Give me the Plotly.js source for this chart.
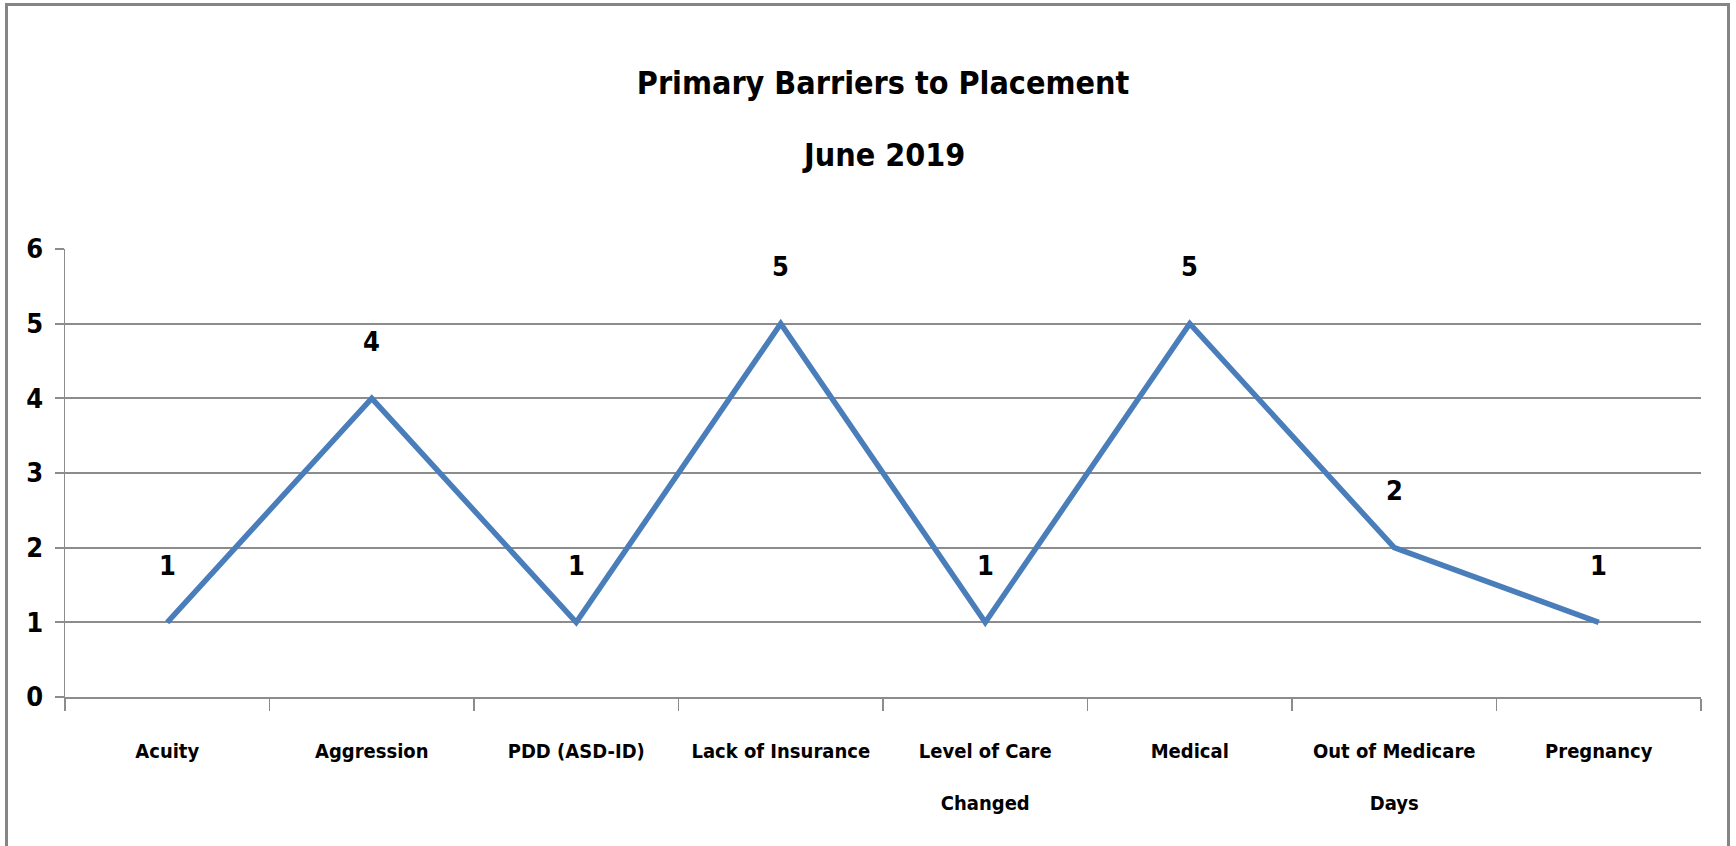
<!DOCTYPE html>
<html>
<head>
<meta charset="utf-8">
<script src="https://cdn.plot.ly/plotly-3.0.1.min.js"></script>
<style>
  html, body { margin: 0; padding: 0; background: #fff; }
  #wrap { position: relative; width: 1736px; height: 846px; overflow: hidden; }
  #chart { position: absolute; left: 0; top: 0; width: 1736px; height: 846px; }
  #frame { position: absolute; left: 5px; top: 3px; width: 1719px; height: 860px;
           border: 3px solid #858585; pointer-events: none; }
</style>
</head>
<body>
<div id="wrap">
  <div id="chart"></div>
  <div id="frame"></div>
</div>
<script>
const categories = ["Acuity", "Aggression", "PDD (ASD-ID)", "Lack of Insurance",
                    "Level of Care Changed", "Medical", "Out of Medicare Days", "Pregnancy"];
const tickLabels = ["Acuity", "Aggression", "PDD (ASD-ID)", "Lack of Insurance",
                    "Level of Care<br><br>Changed", "Medical", "Out of Medicare<br><br>Days", "Pregnancy"];
const values = [1, 4, 1, 5, 1, 5, 2, 1];
const yTicks = [0, 1, 2, 3, 4, 5, 6];
const titleLine1 = "Primary Barriers to Placement";
const titleLine2 = "June 2019";

const FONT = "'DejaVu Sans Condensed', 'Liberation Sans Narrow', 'Arial Narrow', sans-serif";

const trace = {
  type: "scatter",
  mode: "lines",
  x: categories,
  y: values,
  line: { color: "#4A7EBB", width: 5.5 },
  hoverinfo: "skip",
  showlegend: false
};

const annotations = categories.map((c, i) => ({
  x: c, y: values[i], xref: "x", yref: "y",
  text: "<b>" + values[i] + "</b>",
  showarrow: false, yshift: 57,
  font: { family: FONT, size: 27, color: "#000" }
}));

annotations.push({
  xref: "paper", yref: "paper", x: 0.5, y: 1.21,
  xanchor: "center", yanchor: "middle",
  text: "<b>" + titleLine2 + "</b>",
  showarrow: false,
  font: { family: FONT, size: 32, color: "#000" }
});

const layout = {
  width: 1736, height: 846,
  paper_bgcolor: "#fff", plot_bgcolor: "#fff",
  margin: { l: 65, r: 35, t: 249, b: 149 },
  title: {
    text: "<b>" + titleLine1 + "</b>",
    x: 0.5, xanchor: "center", xref: "paper",
    y: 1 - 83 / 846, yanchor: "middle", yref: "container",
    font: { family: FONT, size: 32, color: "#000" }
  },
  xaxis: {
    type: "category",
    range: [-0.5, categories.length - 0.5],
    tickmode: "array", tickvals: categories,
    ticktext: tickLabels.map(t => "<b>" + t + "</b>"),
    showgrid: false,
    showline: true, linecolor: "#8C8C8C", linewidth: 2,
    ticks: "outside", tickson: "boundaries", ticklen: 12, tickwidth: 1.5, tickcolor: "#8C8C8C",
    tickangle: 0,
    tickfont: { family: FONT, size: 20, color: "#000" },
    ticklabelstandoff: 35,
    zeroline: false, fixedrange: true
  },
  yaxis: {
    range: [0, 6],
    tickvals: yTicks, ticktext: yTicks.map(v => "<b>" + v + "</b>"),
    showgrid: true, gridcolor: "#8C8C8C", gridwidth: 2,
    showline: true, linecolor: "#8C8C8C", linewidth: 1.5,
    ticks: "outside", ticklen: 9, tickwidth: 2, tickcolor: "#8C8C8C",
    tickfont: { family: FONT, size: 27, color: "#000" },
    ticklabelstandoff: 6,
    zeroline: false, fixedrange: true
  },
  annotations: annotations
};

Plotly.newPlot("chart", [trace], layout, { displayModeBar: false, staticPlot: true });
</script>
</body>
</html>
